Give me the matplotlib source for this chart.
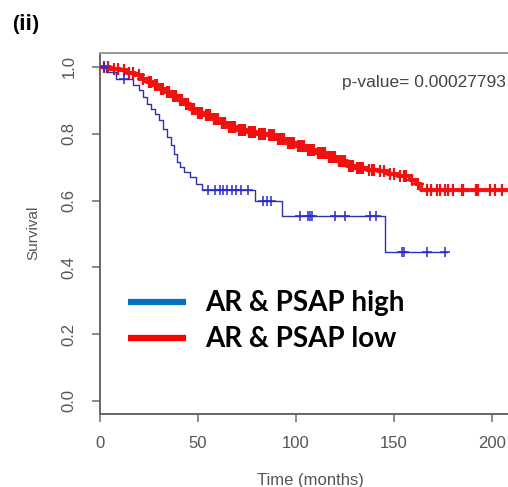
import numpy as np
import matplotlib
matplotlib.use("Agg")
import matplotlib.pyplot as plt
from matplotlib.lines import Line2D

plt.rcParams["font.family"] = ["Liberation Sans", "DejaVu Sans"]

# ---- data ----
high_times = [0, 3, 8, 17, 20, 22, 24, 26, 28, 30, 32, 34, 36, 38, 39.5, 41, 43, 46, 49,
              52, 79, 93, 145.5]
high_surv = [1.0, 0.985, 0.965, 0.945, 0.93, 0.91, 0.89, 0.875, 0.86, 0.84, 0.815,
             0.79, 0.765, 0.74, 0.715, 0.70, 0.685, 0.67, 0.65, 0.632, 0.60, 0.555,
             0.445]
high_end = 177
high_cens = [2, 12, 55, 58.5, 61, 62.5, 65, 67.5, 69.5, 72, 75.5, 83, 85, 87,
             102, 106, 107, 108, 120, 125, 138, 141, 154, 155, 167, 176]

low_times = [0, 5, 10, 14, 18, 21, 24, 27, 30, 33, 36, 40, 43, 46, 49, 53, 57, 61, 65,
             70, 75, 80, 85, 90, 95, 100, 105, 110, 116, 121, 126, 130, 136, 142, 147,
             152, 158, 161, 164]
low_surv = [1.0, 0.995, 0.99, 0.982, 0.975, 0.965, 0.955, 0.945, 0.935, 0.924, 0.913,
            0.90, 0.89, 0.875, 0.863, 0.855, 0.845, 0.832, 0.82, 0.812, 0.806, 0.80,
            0.795, 0.785, 0.772, 0.762, 0.752, 0.742, 0.73, 0.718, 0.705, 0.697, 0.693,
            0.688, 0.68, 0.675, 0.662, 0.65, 0.632]
low_end = 210
low_cens = [2, 4, 7, 9, 12, 15, 17, 20, 22, 25, 26, 28, 29, 31, 32, 34, 35, 37, 38, 39,
            41, 42, 44, 45, 47, 48, 50, 51, 52, 54, 55, 56, 58, 59, 60, 62, 63, 64, 66,
            67, 68, 69, 71, 72, 73, 74, 76, 77, 78, 79, 81, 82, 83, 84, 86, 87, 88, 89,
            91, 92, 93, 94, 96, 97, 98, 99, 101, 102, 103, 104, 106, 107, 108, 109, 111,
            112, 113, 114, 115, 117, 118, 119, 120, 122, 123, 124, 125, 127, 128, 129,
            131, 132, 133, 134, 137, 139, 140, 143, 145, 148, 150, 153, 155, 156, 159,
            162, 167, 169, 172, 173.5, 176, 177.5, 180, 184.5, 185, 192, 193, 199,
            201.5, 205]

x_ticks = [0, 50, 100, 150, 200]
y_ticks = [0.0, 0.2, 0.4, 0.6, 0.8, 1.0]
y_ticklabels = ["0.0", "0.2", "0.4", "0.6", "0.8", "1.0"]
legend_labels = ["AR & PSAP high", "AR & PSAP low"]
legend_colors = ["#0070C0", "#FF0000"]
p_text = "p-value= 0.00027793"
panel_label = "(ii)"

# ---- figure ----
W, H = 508, 487
fig = plt.figure(figsize=(W / 100, H / 100), dpi=100)
L, R, B, T = 100, 508, 414, 53
ax = fig.add_axes([L / W, 1 - B / H, (R - L) / W, (B - T) / H])


def step_xy(times, surv, end):
    return list(times) + [end], list(surv) + [surv[-1]]


def cens_y(times, surv, cens):
    idx = np.searchsorted(np.asarray(times), np.asarray(cens), side="right") - 1
    return np.asarray(surv)[idx]


# low (red)
lx, ly = step_xy(low_times, low_surv, low_end)
ax.step(lx, ly, where="post", color="#ff1a1a", lw=3.0, zorder=3)
ax.plot(low_cens, cens_y(low_times, low_surv, low_cens), ls="none", marker="+",
        ms=8, mew=1.6, color="#f01010", zorder=3)

# high (blue)
hx, hy = step_xy(high_times, high_surv, high_end)
ax.step(hx, hy, where="post", color="#3030a8", lw=1.0, zorder=4)
ax.plot(high_cens, cens_y(high_times, high_surv, high_cens), ls="none", marker="+",
        ms=7, mew=1.1, color="#2a2ad0", zorder=4)

ax.set_xlim(0, (R - L) / 1.96)
ax.set_ylim((401 - B) / 334, (401 - T) / 334)

ax.set_xticks(x_ticks)
ax.set_xticklabels([str(v) for v in x_ticks])
ax.set_yticks(y_ticks)
ax.set_yticklabels(y_ticklabels, rotation=90, va="center")
ax.tick_params(axis="both", direction="out", length=6, width=1.2, color="#777777",
               labelcolor="#555555", labelsize=12)
ax.tick_params(axis="x", pad=10)
ax.tick_params(axis="y", pad=11)

for s in ["left", "bottom"]:
    ax.spines[s].set_color("#666666")
    ax.spines[s].set_linewidth(1.4)
ax.spines["top"].set_color("#999999")
ax.spines["top"].set_linewidth(1.4)
ax.spines["right"].set_visible(False)

# axis titles
fig.text(33 / W, 1 - 233 / H, "Survival", rotation=90, ha="center", va="center",
         fontsize=11, color="#555555")
fig.text(310 / W, 1 - 481 / H, "Time (months)", ha="center", va="center",
         fontsize=12, color="#555555")

# p-value
fig.text(342 / W, 1 - 82 / H, p_text, ha="left", va="center", fontsize=12.5,
         color="#444444")

# panel label
fig.text(12 / W, 1 - 25 / H, panel_label, ha="left", va="center", fontsize=15,
         fontweight="bold", family="Open Sans", color="black")

# legend
for i, (lab, col) in enumerate(zip(legend_labels, legend_colors)):
    yc = [302, 338][i]
    fig.add_artist(Line2D([128 / W, 186 / W], [1 - yc / H, 1 - yc / H], color=col,
                          lw=4.5, solid_capstyle="butt"))
    fig.text(205 / W, 1 - (yc + 1) / H, lab, ha="left", va="center", fontsize=20,
             fontweight="bold", family="Lato", color="black")

fig.savefig("out.png", dpi=100)
